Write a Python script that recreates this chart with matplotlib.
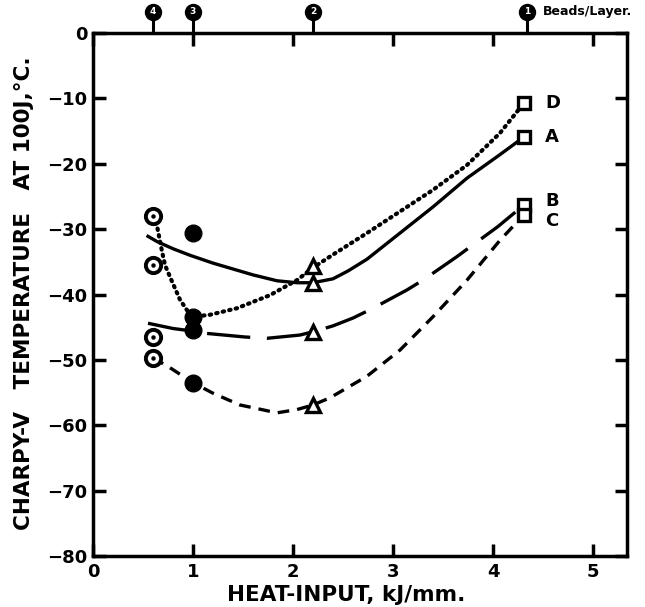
import matplotlib.pyplot as plt
import matplotlib.transforms as mtransforms

plt.rcParams['font.family'] = ['DejaVu Sans']
plt.rcParams['font.weight'] = 'bold'

# measured points
open_x = [0.6, 0.6, 0.6, 0.6]
open_y = [-28, -35.5, -46.5, -49.7]
filled_x = [1.0, 1.0, 1.0, 1.0]
filled_y = [-30.6, -43.4, -45.4, -53.5]
tri_x = [2.2, 2.2, 2.2, 2.2]
tri_y = [-35.7, -38.2, -45.7, -56.9]
sq_x = [4.31, 4.31, 4.31, 4.31]
sq_y = [-10.7, -15.9, -26.3, -27.8]

# curves
a_x = [0.55, 0.64, 0.8, 0.97, 1.2, 1.4, 1.6, 1.84, 2.04, 2.2, 2.4, 2.55, 2.74, 3.07, 3.4, 3.74, 4.07, 4.31]
a_y = [-31.1, -31.9, -33.0, -34.0, -35.2, -36.1, -37.0, -37.9, -38.2, -38.2, -37.6, -36.4, -34.6, -30.6, -26.6, -22.2, -18.6, -15.9]
d_x = [0.6, 0.64, 0.69, 0.72, 0.77, 0.87, 0.94, 1.0, 1.17, 1.44, 1.77, 2.04, 2.2, 2.4, 2.74, 3.07, 3.4, 3.74, 4.07, 4.31]
d_y = [-28.0, -29.5, -33.4, -35.5, -37.3, -40.8, -42.4, -43.4, -43.1, -42.1, -40.1, -37.8, -35.9, -33.9, -30.6, -27.3, -24.0, -20.2, -15.3, -10.7]
b_x = [0.55, 0.8, 1.0, 1.1, 1.52, 1.74, 2.07, 2.2, 2.4, 2.6, 2.8, 3.14, 3.3, 3.64, 3.8, 4.05, 4.31]
b_y = [-44.4, -45.2, -45.6, -45.9, -46.5, -46.7, -46.2, -45.7, -44.8, -43.6, -42.1, -39.3, -37.8, -34.2, -32.4, -29.6, -26.3]
c_x = [0.6, 0.77, 1.0, 1.2, 1.47, 1.84, 2.04, 2.2, 2.37, 2.74, 3.07, 3.4, 3.74, 4.07, 4.31]
c_y = [-49.7, -51.2, -53.5, -55.1, -56.9, -58.1, -57.6, -56.9, -55.8, -52.5, -48.5, -43.4, -37.8, -31.7, -27.8]

curve_names = ['D', 'A', 'B', 'C']
name_y = [-10.7, -15.9, -25.7, -28.7]

top_x = [0.6, 1.0, 2.2]
top_labels = ['4', '3', '2']
key_x = 4.34

fig = plt.figure(figsize=(6.45, 6.07), dpi=100)
ax = fig.add_axes([93 / 645, 51 / 607, 534 / 645, 523 / 607])

lw = 2.4
ax.plot(a_x, a_y, 'k-', lw=lw, zorder=2)
ax.plot(d_x, d_y, color='k', lw=3.0, linestyle=(0, (0.35, 1.25)), dash_capstyle='round', zorder=2)
ax.plot(b_x, b_y, color='k', lw=lw, linestyle=(0, (13, 5)), zorder=2)
ax.plot(c_x, c_y, color='k', lw=lw, linestyle=(0, (3.5, 2.4)), zorder=2)

ax.plot(open_x, open_y, 'o', ms=11, mfc='white', mec='k', mew=2.8, zorder=3)
ax.plot(open_x, open_y, 'o', ms=2.2, color='k', zorder=4)
ax.plot(filled_x, filled_y, 'o', ms=12, color='k', zorder=3)
ax.plot(tri_x, tri_y, '^', ms=10, mfc='white', mec='k', mew=2.4, zorder=3)
ax.plot(sq_x, sq_y, 's', ms=8.5, mfc='white', mec='k', mew=2.4, zorder=3)

for n, y in zip(curve_names, name_y):
    ax.text(4.52, y, n, fontsize=13, fontweight='bold', va='center', ha='left')

# beads/layer symbols on top axis
trans = mtransforms.blended_transform_factory(ax.transData, ax.transAxes)
yc = 1 + 21 / 523
for x, lab in zip(top_x + [key_x], top_labels + ['1']):
    ax.plot([x, x], [1.0, yc], color='k', lw=2.2, transform=trans, clip_on=False)
    ax.plot(x, yc, 'o', ms=11.5, color='k', transform=trans, clip_on=False)
    ax.text(x, yc, lab, color='white', fontsize=6.5, ha='center', va='center',
            transform=trans, clip_on=False)
ax.text(4.5, yc, 'Beads/Layer.', fontsize=9, fontweight='bold', ha='left', va='center',
        transform=trans, clip_on=False)

ax.set_xlim(0, 5.34)
ax.set_ylim(-80, 0)
ax.set_xticks([0, 1, 2, 3, 4, 5])
ax.set_yticks(range(-80, 1, 10))
ax.tick_params(direction='in', length=9, width=2.5, labelsize=13, top=True, right=True)
ax.tick_params(axis='x', pad=5)
ax.tick_params(axis='y', pad=4)
for s in ax.spines.values():
    s.set_linewidth(2.5)

fig.text(346 / 645, 1 - 595 / 607, 'HEAT-INPUT, kJ/mm.', fontsize=15.5, fontweight='bold',
         ha='center', va='center')
fig.text(24 / 645, 1 - 293 / 607, 'CHARPY-V   TEMPERATURE   AT 100J,\u00b0C.', fontsize=15.5,
         fontweight='bold', rotation=90, ha='center', va='center')

fig.savefig('out.png', dpi=100)
